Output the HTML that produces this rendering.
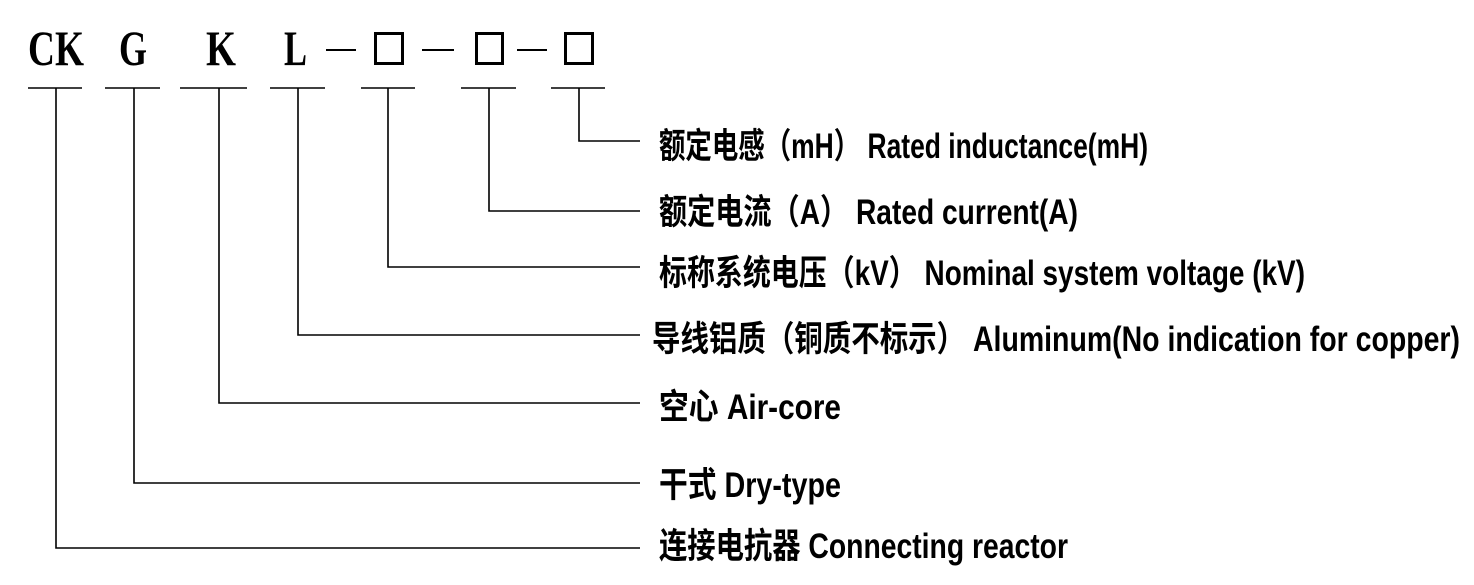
<!DOCTYPE html>
<html><head><meta charset="utf-8"><style>
html,body{margin:0;padding:0;background:#fff;}
svg{display:block}
.h{font-family:"Liberation Serif",serif;font-weight:bold;font-size:50px;}
.t{font-family:"Liberation Sans","Noto Sans CJK SC",sans-serif;font-size:28px;font-weight:bold;}
</style></head><body>
<svg width="1474" height="585" viewBox="0 0 1474 585" xmlns="http://www.w3.org/2000/svg">
<g fill="#000">
<text class="h" x="28" y="65" textLength="56" lengthAdjust="spacingAndGlyphs">CK</text>
<text class="h" x="119" y="65" textLength="28" lengthAdjust="spacingAndGlyphs">G</text>
<text class="h" x="206" y="65" textLength="30" lengthAdjust="spacingAndGlyphs">K</text>
<text class="h" x="284" y="65" textLength="23" lengthAdjust="spacingAndGlyphs">L</text>
</g>
<g stroke="#000" stroke-width="2" fill="none">
<line x1="326" y1="50" x2="356" y2="50"/>
<line x1="422" y1="50" x2="454" y2="50"/>
<line x1="517" y1="50" x2="547" y2="50"/>
</g>
<g stroke="#000" stroke-width="3" fill="none">
<rect x="375.5" y="33.5" width="27" height="30"/>
<rect x="476.5" y="33.5" width="26" height="30"/>
<rect x="565.5" y="33.5" width="27" height="30"/>
</g>
<g stroke="#000" stroke-width="1.6" fill="none">
<line x1="28" y1="88" x2="82" y2="88"/>
<line x1="105" y1="88" x2="160" y2="88"/>
<line x1="180" y1="88" x2="247" y2="88"/>
<line x1="270" y1="88" x2="325" y2="88"/>
<line x1="361" y1="88" x2="415" y2="88"/>
<line x1="461" y1="88" x2="516" y2="88"/>
<line x1="551" y1="88" x2="605" y2="88"/>
<polyline points="579,88 579,141 640,141"/>
<polyline points="489,88 489,211 640,211"/>
<polyline points="388,88 388,267 640,267"/>
<polyline points="298,88 298,335 640,335"/>
<polyline points="219,88 219,403 640,403"/>
<polyline points="134,88 134,483 640,483"/>
<polyline points="56,88 56,548 640,548"/>
</g>
<g fill="#000">
<text class="t" transform="translate(659,158) scale(1,1.25)" textLength="489" lengthAdjust="spacingAndGlyphs">额定电感（mH） Rated inductance(mH)</text>
<text class="t" transform="translate(659,224) scale(1,1.25)" textLength="419" lengthAdjust="spacingAndGlyphs">额定电流（A） Rated current(A)</text>
<text class="t" transform="translate(659,285) scale(1,1.25)" textLength="646" lengthAdjust="spacingAndGlyphs">标称系统电压（kV） Nominal system voltage (kV)</text>
<text class="t" transform="translate(652,351) scale(1,1.25)" textLength="808" lengthAdjust="spacingAndGlyphs">导线铝质（铜质不标示） Aluminum(No indication for copper)</text>
<text class="t" transform="translate(659,419) scale(1,1.25)" textLength="182" lengthAdjust="spacingAndGlyphs">空心 Air-core</text>
<text class="t" transform="translate(659,497) scale(1,1.25)" textLength="182" lengthAdjust="spacingAndGlyphs">干式 Dry-type</text>
<text class="t" transform="translate(659,558) scale(1,1.25)" textLength="409" lengthAdjust="spacingAndGlyphs">连接电抗器 Connecting reactor</text>
</g>
</svg>
</body></html>
